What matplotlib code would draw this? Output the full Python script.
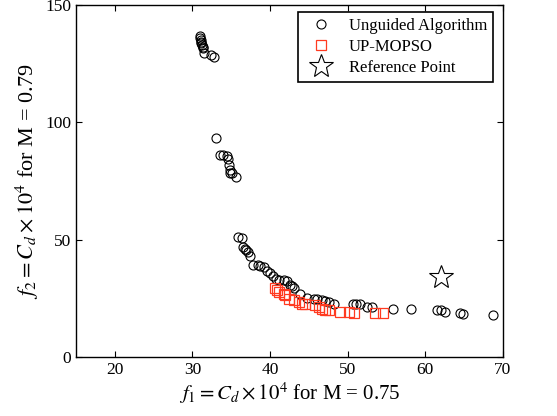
import matplotlib.pyplot as plt

plt.rcParams['font.family'] = ['Liberation Serif', 'DejaVu Serif']
plt.rcParams['mathtext.fontset'] = 'stix'

# Unguided algorithm front (f1, f2)
ung_f1 = [30.96, 31.00, 31.05, 31.10, 31.15, 31.26, 31.30, 31.40, 31.48, 32.33, 32.76,
          33.06, 33.50, 34.00, 34.50, 34.60, 34.70, 34.80, 34.90, 35.10, 35.60,
          35.90, 36.40, 36.53, 36.74, 36.96, 37.13, 37.39, 37.82, 38.42, 38.76,
          39.19, 39.61, 40.04, 40.39, 40.73, 41.11, 41.76, 42.18, 42.61, 42.87,
          43.13, 43.90, 44.75, 45.61, 46.04, 46.68, 47.11, 47.54, 48.18, 50.66,
          51.09, 51.52, 52.46, 53.10, 55.80, 58.12, 61.46, 61.97, 62.53, 64.45,
          64.88, 68.74]
ung_f2 = [136.8, 135.8, 135.1, 134.4, 133.7, 133.0, 132.3, 131.6, 129.7, 128.7, 128.0,
          93.5, 86.1, 86.0, 85.6, 84.2, 81.8, 79.7, 78.5, 78.2, 76.8,
          51.2, 50.8, 46.9, 46.2, 45.5, 44.8, 43.0, 39.1, 39.1, 38.7,
          38.4, 36.7, 35.6, 34.4, 33.4, 33.0, 32.7, 32.4, 30.6, 30.2,
          29.6, 27.0, 25.2, 24.9, 24.6, 24.2, 23.9, 23.5, 22.8, 22.8,
          22.8, 22.8, 21.3, 21.1, 20.6, 20.6, 20.2, 19.9, 19.2, 18.9,
          18.5, 17.8]

# UP-MOPSO front
up_f1 = [40.69, 40.90, 41.11, 41.76, 41.97, 42.40, 43.04, 43.68, 44.11, 44.54,
         45.82, 46.25, 46.68, 47.11, 47.54, 49.04, 50.11, 50.75, 53.53, 54.60]
up_f2 = [29.6, 28.7, 27.7, 27.0, 26.3, 24.9, 24.5, 23.5, 22.8, 22.5,
         22.1, 21.3, 20.6, 20.2, 19.9, 19.2, 19.2, 18.8, 18.8, 18.8]

ref_f1 = [61.97]
ref_f2 = [33.9]

fig = plt.figure(figsize=(5.57, 4.16), dpi=100)
ax = fig.add_axes([0.1364, 0.1418, 0.7666, 0.8462])

ax.plot(ung_f1, ung_f2, 'o', ms=6.5, mfc='none', mec='black', mew=0.8,
        label='Unguided Algorithm')
ax.plot(up_f1, up_f2, 's', ms=6.8, mfc='none', mec='#ff3a20', mew=0.9,
        label='UP-MOPSO')
ax.plot(ref_f1, ref_f2, '*', ms=18, mfc='none', mec='black', mew=0.8,
        label='Reference Point')

ax.set_xlim(15, 70)
ax.set_ylim(0, 150)
ax.set_xticks([20, 30, 40, 50, 60, 70])
ax.set_yticks([0, 50, 100, 150])
ax.tick_params(direction='in', top=True, right=True, labelsize=12.5, length=4)
for s in ax.spines.values():
    s.set_linewidth(1.0)

ax.set_xlabel(r'$f_1 = C_d \times 10^4$ for M = 0.75', fontsize=15, labelpad=2)
ax.set_ylabel(r'$f_2 = C_d \times 10^4$ for M = 0.79', fontsize=16, labelpad=3)

leg = ax.legend(loc='upper right', fontsize=12, fancybox=False, framealpha=1,
                edgecolor='black', handletextpad=0.7, borderpad=0.35,
                labelspacing=0.3, handlelength=2.0, borderaxespad=0.4,
                bbox_to_anchor=(0.993, 0.998))
leg.get_frame().set_linewidth(1.2)

fig.savefig('out.png', dpi=100)
